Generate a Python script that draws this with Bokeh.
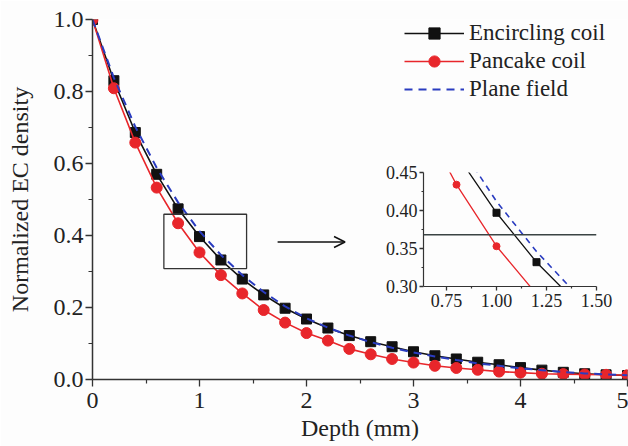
from bokeh.plotting import figure
from bokeh.models import (Range1d, FixedTicker, PrintfTickFormatter, Legend,
                          LegendItem, Arrow, OpenHead, Span)
from bokeh.layouts import column
from bokeh.embed import file_html
from bokeh.resources import INLINE

FONT = "Liberation Serif"
BG = "#fdfdfd"

# ---------------- data ----------------
depth = [0.0, 0.2, 0.4, 0.6, 0.8, 1.0, 1.2, 1.4, 1.6, 1.8, 2.0, 2.2, 2.4,
         2.6, 2.8, 3.0, 3.2, 3.4, 3.6, 3.8, 4.0, 4.2, 4.4, 4.6, 4.8, 5.0]
encircling = [1.0, 0.830, 0.686, 0.570, 0.474, 0.397, 0.332, 0.279, 0.235,
              0.198, 0.168, 0.143, 0.122, 0.105, 0.091, 0.077, 0.066, 0.057,
              0.048, 0.041, 0.033, 0.026, 0.020, 0.016, 0.013, 0.011]
pancake = [1.0, 0.809, 0.658, 0.533, 0.434, 0.353, 0.290, 0.239, 0.193,
           0.158, 0.129, 0.108, 0.085, 0.070, 0.057, 0.047, 0.038, 0.032,
           0.027, 0.022, 0.019, 0.016, 0.015, 0.014, 0.013, 0.012]
plane = [1.0, 0.838, 0.702, 0.588, 0.492, 0.412, 0.346, 0.290, 0.243,
         0.203, 0.170, 0.144, 0.122, 0.104, 0.088, 0.075, 0.064, 0.054,
         0.045, 0.038, 0.031, 0.026, 0.021, 0.017, 0.014, 0.012]

x_ticks = [0, 1, 2, 3, 4, 5]
x_minor = [0.5, 1.5, 2.5, 3.5, 4.5]
y_ticks = [0.0, 0.2, 0.4, 0.6, 0.8, 1.0]
y_minor = [0.1, 0.3, 0.5, 0.7, 0.9]

zoom_box_x = [0.667, 1.44]
zoom_box_y = [0.308, 0.459]
arrow_x = [1.73, 2.36]
arrow_y = [0.382, 0.382]

inset_x_range = [0.635, 1.5]
inset_y_range = [0.30, 0.45]
inset_x_ticks = [0.75, 1.00, 1.25, 1.50]
inset_x_minor = [0.875, 1.125, 1.375]
inset_y_ticks = [0.30, 0.35, 0.40, 0.45]
inset_y_minor = [0.325, 0.375, 0.425]
inv_e = 0.368

BLACK = "#111111"
RED = "#e8262b"
BLUE = "#2a3cc0"
AXIS = "#333333"


def style_axes(fig, size):
    for ax in (fig.xaxis[0], fig.yaxis[0]):
        ax.axis_line_color = AXIS
        ax.axis_line_width = 1.5
        ax.major_tick_line_color = AXIS
        ax.minor_tick_line_color = AXIS
        ax.major_tick_line_width = 1.3
        ax.minor_tick_line_width = 1.2
        ax.major_tick_in = 0
        ax.minor_tick_in = 0
        ax.major_label_text_font = FONT
        ax.major_label_text_font_size = size
        ax.major_label_text_color = "#222222"
        ax.axis_label_text_font = FONT
        ax.axis_label_text_font_style = "normal"
        ax.axis_label_text_color = "#222222"


# ---------------- main figure ----------------
p = figure(width=628, height=446, x_range=Range1d(0, 5), y_range=Range1d(0, 1),
           output_backend="svg", toolbar_location=None,
           min_border_left=92, min_border_right=1, min_border_top=19,
           min_border_bottom=67, background_fill_color=BG,
           border_fill_color=BG, outline_line_color=None)
p.frame_align = False
p.grid.visible = False
style_axes(p, "24px")
p.xaxis.ticker = FixedTicker(ticks=x_ticks, minor_ticks=x_minor)
p.yaxis.ticker = FixedTicker(ticks=y_ticks, minor_ticks=y_minor)
p.xaxis.formatter = PrintfTickFormatter(format="%d")
p.yaxis.formatter = PrintfTickFormatter(format="%.1f")
p.xaxis.major_tick_out = 7
p.yaxis.major_tick_out = 7
p.xaxis.minor_tick_out = 4
p.yaxis.minor_tick_out = 4
p.xaxis.major_label_standoff = 6
p.yaxis.major_label_standoff = 2
p.xaxis.axis_label = "Depth (mm)"
p.yaxis.axis_label = "Normalized EC density"
p.xaxis.axis_label_text_font_size = "24px"
p.yaxis.axis_label_text_font_size = "24px"
p.xaxis.axis_label_standoff = 4
p.yaxis.axis_label_standoff = 18

l_enc = p.line(depth, encircling, line_color=BLACK, line_width=1.6)
s_enc = p.scatter(depth, encircling, marker="square", size=10,
                  fill_color=BLACK, line_color=BLACK)
l_pan = p.line(depth, pancake, line_color=RED, line_width=1.6)
s_pan = p.scatter(depth, pancake, marker="circle", size=11,
                  fill_color=RED, line_color=RED)
l_pl = p.line(depth, plane, line_color=BLUE, line_width=2,
              line_dash="8 6")

p.quad(left=[zoom_box_x[0]], right=[zoom_box_x[1]], bottom=[zoom_box_y[0]],
       top=[zoom_box_y[1]], fill_color=None, line_color=AXIS, line_width=1.3)
p.add_layout(Arrow(end=OpenHead(size=11, line_color=BLACK, line_width=1.5),
                   x_start=arrow_x[0], y_start=arrow_y[0],
                   x_end=arrow_x[1], y_end=arrow_y[1],
                   line_color=BLACK, line_width=1.5))

legend = Legend(items=[
    LegendItem(label="Encircling coil", renderers=[l_enc, s_enc]),
    LegendItem(label="Pancake coil", renderers=[l_pan, s_pan]),
    LegendItem(label="Plane field", renderers=[l_pl]),
], location=(312, 276))
legend.border_line_color = None
legend.background_fill_alpha = 0
legend.padding = 0
legend.spacing = 0
legend.margin = 0
legend.glyph_width = 60
legend.glyph_height = 28
legend.label_height = 28
legend.label_standoff = 5
legend.label_text_font = FONT
legend.label_text_font_size = "23px"
legend.label_text_color = "#222222"
p.add_layout(legend)

# ---------------- inset ----------------
inset = figure(width=240, height=159, x_range=Range1d(*inset_x_range),
               y_range=Range1d(*inset_y_range), output_backend="svg",
               toolbar_location=None, min_border_left=48, min_border_right=19,
               min_border_top=9, min_border_bottom=36,
               background_fill_alpha=0, border_fill_alpha=0,
               outline_line_color=None)
inset.frame_align = False
inset.styles = {"position": "absolute", "left": "375px", "top": "163px"}
inset.grid.visible = False
style_axes(inset, "18px")
inset.xaxis.ticker = FixedTicker(ticks=inset_x_ticks, minor_ticks=inset_x_minor)
inset.yaxis.ticker = FixedTicker(ticks=inset_y_ticks, minor_ticks=inset_y_minor)
inset.xaxis.formatter = PrintfTickFormatter(format="%.2f")
inset.yaxis.formatter = PrintfTickFormatter(format="%.2f")
inset.xaxis.major_tick_out = 4
inset.yaxis.major_tick_out = 4
inset.xaxis.minor_tick_out = 2
inset.yaxis.minor_tick_out = 2
inset.xaxis.major_label_standoff = 3
inset.yaxis.major_label_standoff = 2
inset.xaxis.axis_line_width = 1.2
inset.yaxis.axis_line_width = 1.2

inset.add_layout(Span(location=inv_e, dimension="width", line_color="#3a4444",
                      line_width=1.5))
inset.line(depth, encircling, line_color=BLACK, line_width=1.3)
inset.scatter(depth, encircling, marker="square", size=7,
              fill_color=BLACK, line_color=BLACK)
inset.line(depth, pancake, line_color=RED, line_width=1.3)
inset.scatter(depth, pancake, marker="circle", size=7,
              fill_color=RED, line_color=RED)
inset.line(depth, plane, line_color=BLUE, line_width=1.6, line_dash="6 5")

layout = column(p, inset)
open("out.html", "w").write(file_html(layout, INLINE))
